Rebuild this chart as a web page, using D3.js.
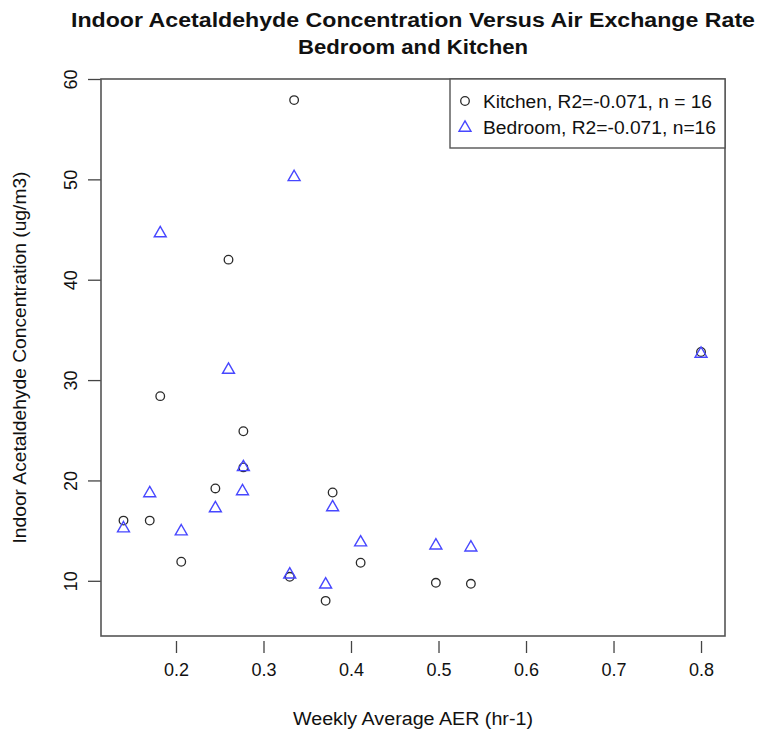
<!DOCTYPE html>
<html>
<head>
<meta charset="utf-8">
<script src="https://cdn.jsdelivr.net/npm/d3@7"></script>
<style>
  html, body { margin: 0; padding: 0; background: #fff; }
  svg text { font-family: "Liberation Sans", Arial, Helvetica, sans-serif; fill: #111; }
</style>
</head>
<body>
<svg id="chart" width="757" height="733"></svg>
<script>
// Weekly average air exchange rate (hr-1) per home
const kitchenAER = [0.335, 0.260, 0.182, 0.277, 0.277, 0.140, 0.170, 0.206, 0.245, 0.330, 0.371, 0.379, 0.411, 0.497, 0.537, 0.800];
// Kitchen acetaldehyde concentration (ug/m3)
const kitchenConc = [57.9, 42.0, 28.4, 24.9, 21.3, 16.0, 16.0, 11.9, 19.2, 10.4, 8.0, 18.8, 11.8, 9.8, 9.7, 32.8];

const bedroomAER = [0.335, 0.182, 0.260, 0.277, 0.140, 0.170, 0.206, 0.245, 0.276, 0.330, 0.371, 0.379, 0.411, 0.497, 0.537, 0.800];
// Bedroom acetaldehyde concentration (ug/m3)
const bedroomConc = [50.3, 44.7, 31.1, 21.4, 15.3, 18.8, 15.0, 17.3, 19.0, 10.7, 9.7, 17.4, 13.9, 13.6, 13.4, 32.7];

const xTicks = [0.2, 0.3, 0.4, 0.5, 0.6, 0.7, 0.8];
const yTicks = [10, 20, 30, 40, 50, 60];
const legendLabels = ["Kitchen, R2=-0.071, n = 16", "Bedroom, R2=-0.071, n=16"];
const titleLines = ["Indoor Acetaldehyde Concentration Versus Air Exchange Rate", "Bedroom and Kitchen"];
const xTitle = "Weekly Average AER (hr-1)";
const yTitle = "Indoor Acetaldehyde Concentration (ug/m3)";

const svg = d3.select("#chart");
const plot = { left: 101, right: 725, top: 79, bottom: 636 };

const x = d3.scaleLinear().domain([0.1143, 0.8274]).range([plot.left, plot.right]);
const y = d3.scaleLinear().domain([4.5, 60]).range([plot.bottom, plot.top]);

const kitchen = kitchenAER.map((v, i) => ({ x: v, y: kitchenConc[i] }));
const bedroom = bedroomAER.map((v, i) => ({ x: v, y: bedroomConc[i] }));

// Title (slightly wide face, so glyphs are stretched to the line width)
const titleWidths = [684, 230];
titleLines.forEach((t, i) => {
  svg.append("text")
    .attr("x", (plot.left + plot.right) / 2)
    .attr("y", 27 + i * 27)
    .attr("text-anchor", "middle")
    .attr("font-weight", "bold")
    .attr("font-size", 20)
    .attr("textLength", titleWidths[i])
    .attr("lengthAdjust", "spacingAndGlyphs")
    .text(t);
});

// X axis: ticks sit just below the frame
const xAxis = d3.axisBottom(x).tickValues(xTicks).tickSize(12).tickPadding(10)
  .tickFormat(d3.format(".1f"));
const gx = svg.append("g").attr("transform", `translate(0,${plot.bottom + 5})`).call(xAxis);
gx.select(".domain").remove();
gx.selectAll(".tick line").attr("stroke", "#444").attr("stroke-width", 1.3);
gx.selectAll(".tick text").attr("font-size", 18).attr("fill", "#111")
  .attr("font-family", "Liberation Sans, Arial, sans-serif");

// Y axis: labels parallel to the axis
const yAxis = d3.axisLeft(y).tickValues(yTicks).tickSize(13).tickFormat(d3.format("d"));
const gy = svg.append("g").attr("transform", `translate(${plot.left},0)`).call(yAxis);
gy.select(".domain").remove();
gy.selectAll(".tick line").attr("stroke", "#444").attr("stroke-width", 1.3);
gy.selectAll(".tick text")
  .attr("font-size", 18).attr("fill", "#111")
  .attr("font-family", "Liberation Sans, Arial, sans-serif")
  .attr("x", null).attr("dy", null)
  .attr("text-anchor", "middle")
  .attr("transform", "translate(-30,0) rotate(-90) translate(0,6)");

// Frame
svg.append("rect")
  .attr("x", plot.left).attr("y", plot.top)
  .attr("width", plot.right - plot.left).attr("height", plot.bottom - plot.top)
  .attr("fill", "none").attr("stroke", "#555").attr("stroke-width", 1.6);

// Axis titles
svg.append("text")
  .attr("x", (plot.left + plot.right) / 2).attr("y", 725)
  .attr("text-anchor", "middle").attr("font-size", 18)
  .attr("textLength", 240).attr("lengthAdjust", "spacingAndGlyphs")
  .text(xTitle);
svg.append("text")
  .attr("transform", `translate(26,${(plot.top + plot.bottom) / 2}) rotate(-90)`)
  .attr("text-anchor", "middle").attr("font-size", 18)
  .attr("textLength", 372).attr("lengthAdjust", "spacingAndGlyphs")
  .text(yTitle);

// Marks
const circleColor = "#2a2a2a";
const triColor = "#4747ff";
const tri = d3.symbol().type(d3.symbolTriangle).size(62);

svg.append("g").selectAll("circle").data(kitchen).join("circle")
  .attr("cx", d => x(d.x)).attr("cy", d => y(d.y)).attr("r", 4.3)
  .attr("fill", "none").attr("stroke", circleColor).attr("stroke-width", 1.3);

svg.append("g").selectAll("path").data(bedroom).join("path")
  .attr("d", tri)
  .attr("transform", d => `translate(${x(d.x)},${y(d.y) + 0.8})`)
  .attr("fill", "none").attr("stroke", triColor).attr("stroke-width", 1.4);

// Legend
const legendWidths = [229, 233];
const legend = svg.append("g");
legend.append("rect")
  .attr("x", 450).attr("y", plot.top).attr("width", plot.right - 450).attr("height", 69)
  .attr("fill", "#fff").attr("stroke", "#555").attr("stroke-width", 1.4);
legendLabels.forEach((t, i) => {
  const cy = 101 + i * 26;
  if (i === 0) {
    legend.append("circle").attr("cx", 465).attr("cy", cy).attr("r", 4.3)
      .attr("fill", "none").attr("stroke", circleColor).attr("stroke-width", 1.3);
  } else {
    legend.append("path").attr("d", tri).attr("transform", `translate(465,${cy + 0.8})`)
      .attr("fill", "none").attr("stroke", triColor).attr("stroke-width", 1.4);
  }
  legend.append("text").attr("x", 483).attr("y", cy + 6.5).attr("font-size", 18)
    .attr("textLength", legendWidths[i]).attr("lengthAdjust", "spacingAndGlyphs")
    .text(t);
});
</script>
</body>
</html>
